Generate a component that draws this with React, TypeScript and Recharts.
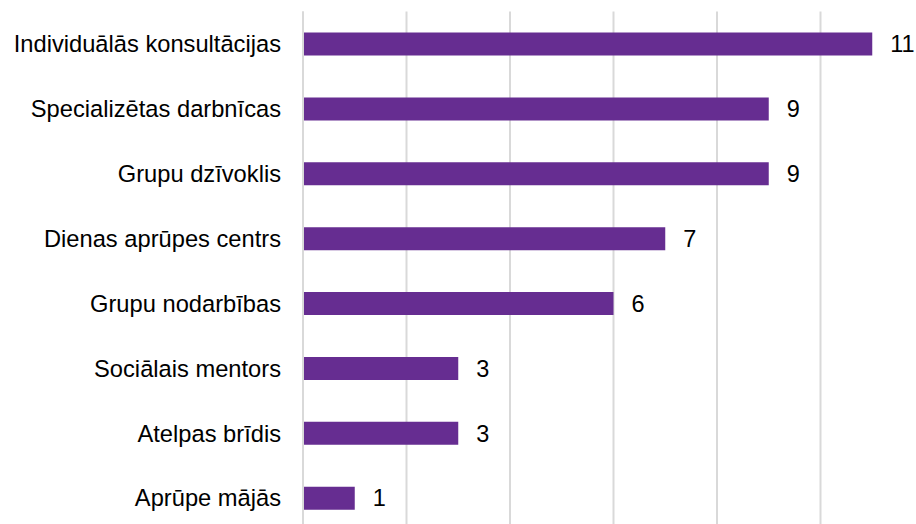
import React from "react";
import { BarChart, Bar, XAxis, YAxis, CartesianGrid, LabelList } from "recharts";

/// service types and the count for each one
const categories = [
  "Individuālās konsultācijas",
  "Specializētas darbnīcas",
  "Grupu dzīvoklis",
  "Dienas aprūpes centrs",
  "Grupu nodarbības",
  "Sociālais mentors",
  "Atelpas brīdis",
  "Aprūpe mājās",
];
const counts = [11, 9, 9, 7, 6, 3, 3, 1];
const xTicks = [0, 2, 4, 6, 8, 10, 12];

const BAR_COLOR = "#662d91";
const GRID_COLOR = "#d9d9d9";
const FONT = "'Liberation Sans', Arial, sans-serif";

export default function App() {
  const data = categories.map((name, i) => ({ name, value: counts[i] }));

  return (
    <div
      style={{
        position: "absolute",
        left: 0,
        top: 0,
        width: 916,
        height: 524,
        overflow: "hidden",
        background: "#fff",
        fontFamily: FONT,
      }}
    >
      <BarChart
        width={940}
        height={540}
        data={data}
        layout="vertical"
        margin={{ top: 11.5, right: 16, bottom: 9.5, left: 0 }}
      >
        <CartesianGrid horizontal={false} stroke={GRID_COLOR} strokeWidth={2} />
        <XAxis type="number" domain={[0, 12]} ticks={xTicks} hide />
        <YAxis
          type="category"
          dataKey="name"
          width={303}
          tickLine={false}
          tickSize={0}
          tickMargin={22}
          axisLine={{ stroke: GRID_COLOR, strokeWidth: 2 }}
          tick={{ fill: "#000", fontSize: 23.7, fontFamily: FONT }}
        />
        <Bar dataKey="value" fill={BAR_COLOR} barSize={23} isAnimationActive={false}>
          <LabelList
            dataKey="value"
            position="right"
            offset={18}
            fill="#000"
            fontSize={23.5}
            fontFamily={FONT}
          />
        </Bar>
      </BarChart>
    </div>
  );
}
